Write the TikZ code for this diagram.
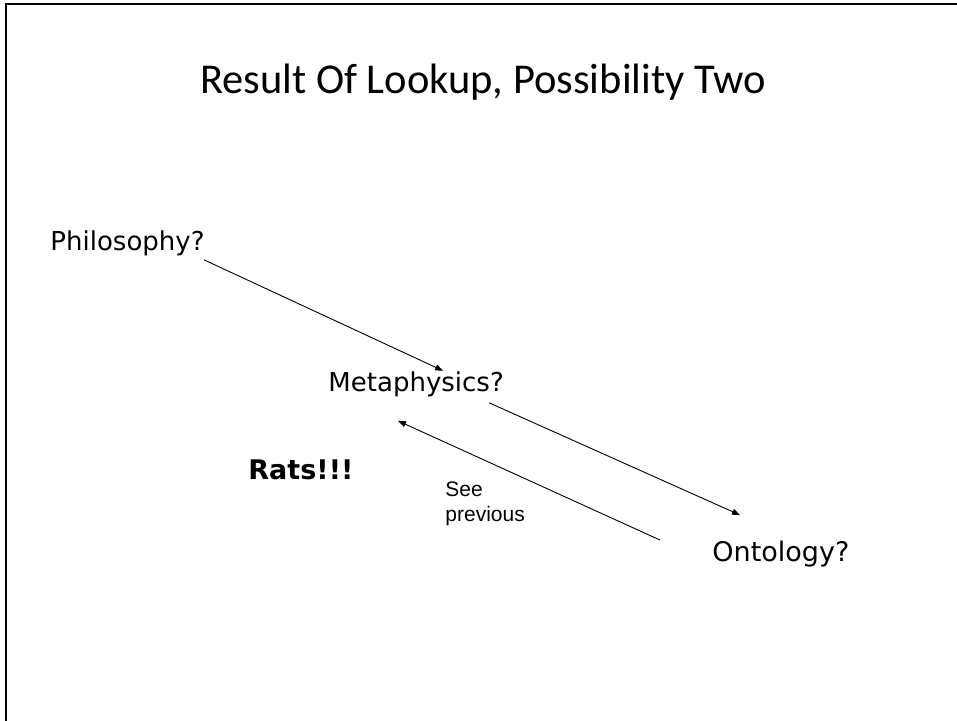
\documentclass[tikz,border=0pt]{standalone}
\usepackage{fontspec}
\setmainfont{DejaVu Sans}
\newfontfamily\titlefont{Carlito}
\newfontfamily\notefont{Liberation Sans}
\usepackage{tikz}
\usetikzlibrary{arrows.meta}
\def\termsize{\fontsize{26}{31}\selectfont}

\begin{document}
\begin{tikzpicture}[x=1pt,y=-1pt,line width=0.9pt,-{Triangle[length=8pt,width=6pt]}]
		\tikzstyle{term}=[inner sep=0pt,anchor=base west,font=\termsize]
		\tikzstyle{frame}=[-,line width=2.2pt]
		\useasboundingbox (0,0) rectangle (957,720);

		% slide frame, only left and top edges show
		\draw[frame] (6,725) -- (6,4) -- (965,4);

		\node[inner sep=0pt,anchor=base,font=\titlefont\fontsize{42.5}{50}\selectfont] (title) at (483,93) {Result Of Lookup, Possibility Two};

		\node[term] (philo) at (50,250) {Philosophy?};
		\node[term] (meta) at (328,391) {Metaphysics?};
		\node[term,font=\fontsize{27}{32}\selectfont] (onto) at (712,561) {Ontology?};
		\node[term,font=\fontsize{27}{32}\selectfont\bfseries] (rats) at (248,479) {Rats!!!};
		\node[inner sep=0pt,anchor=north west,align=left,font=\notefont\fontsize{21}{25}\selectfont] (see) at (445,481) {See\\previous};

		\draw ([shift={(-1,4)}]philo.south east) -- ([shift={(27,0)}]meta.north);
		\draw ([shift={(-15,6)}]meta.south east) -- ([shift={(28,-25)}]onto.north west);
		\draw ([shift={(-52,0)}]onto.north west) -- ([shift={(70,24)}]meta.south west);
\end{tikzpicture}
\end{document}
